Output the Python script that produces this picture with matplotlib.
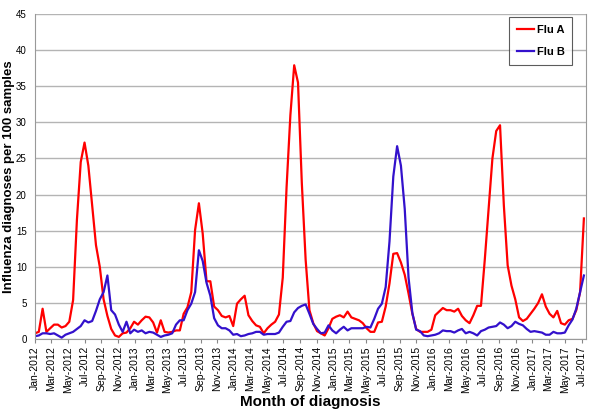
import numpy as np
import pandas as pd
import matplotlib
matplotlib.use('Agg')
import matplotlib.pyplot as plt
import matplotlib.dates as mdates

plt.rcParams['font.family'] = ['Liberation Sans', 'DejaVu Sans']

# fortnightly values, starting 1 Jan 2012
flu_a = [0.8, 1.0, 4.2, 1.0, 1.5, 2.0, 2.0, 1.6, 1.8, 2.4,
         5.4, 16.5, 24.5, 27.2, 24.0, 18.5, 13.0, 10.0, 5.5, 3.2,
         1.4, 0.5, 0.3, 0.8, 0.9, 1.5, 2.4, 2.0, 2.6, 3.1,
         3.0, 2.3, 0.9, 2.6, 1.0, 0.9, 1.0, 1.2, 1.2, 3.5,
         4.4, 6.5, 15.1, 18.8, 14.6, 8.0, 8.0, 4.5, 4.0, 3.2,
         3.0, 3.2, 1.8, 4.9, 5.5, 6.0, 3.3, 2.5, 1.9, 1.7,
         0.8, 1.5, 2.0, 2.4, 3.4, 8.5, 21.0, 31.0, 37.9, 35.5,
         21.6, 11.0, 4.0, 2.2, 1.1, 0.8, 0.5, 1.5, 2.8, 3.1,
         3.3, 3.0, 3.8, 3.0, 2.8, 2.6, 2.2, 1.5, 1.0, 1.0,
         2.3, 2.4, 4.5, 7.7, 11.8, 11.9, 10.6, 8.9, 6.3, 3.5,
         1.4, 1.0, 1.0, 1.0, 1.3, 3.3, 3.8, 4.3, 4.0, 4.0,
         3.8, 4.2, 3.2, 2.6, 2.2, 3.3, 4.6, 4.6, 11.0, 18.0,
         25.0, 28.8, 29.6, 18.5, 10.2, 7.4, 5.5, 3.0, 2.5, 2.8,
         3.5, 4.2, 5.0, 6.2, 4.5, 3.5, 3.0, 3.9, 2.2, 2.0,
         2.6, 2.8, 4.0, 6.5, 16.7]
flu_b = [0.4, 0.5, 0.8, 0.8, 0.7, 0.8, 0.5, 0.2, 0.6, 0.8,
         1.0, 1.4, 1.8, 2.6, 2.3, 2.5, 3.9, 5.5, 6.5, 8.8,
         4.0, 3.4, 2.0, 1.0, 2.4, 0.8, 1.3, 1.0, 1.2, 0.8,
         1.0, 0.9, 0.6, 0.3, 0.5, 0.6, 0.8, 2.0, 2.6, 2.6,
         4.0, 4.9, 6.5, 12.3, 10.8, 7.8, 6.0, 2.9, 1.9, 1.5,
         1.5, 1.2, 0.6, 0.7, 0.4, 0.5, 0.7, 0.8, 1.0, 1.0,
         0.6, 0.7, 0.7, 0.7, 0.9, 1.7, 2.4, 2.5, 3.7, 4.3,
         4.6, 4.8, 3.5, 2.1, 1.4, 0.8, 0.9, 1.9, 1.2, 0.8,
         1.3, 1.7, 1.2, 1.5, 1.5, 1.5, 1.5, 1.7, 1.6, 2.8,
         4.2, 4.9, 7.2, 13.5, 22.5, 26.7, 24.0, 18.0, 8.5, 3.6,
         1.3, 1.1, 0.5, 0.4, 0.5, 0.6, 0.8, 1.2, 1.1, 1.1,
         0.9, 1.2, 1.4, 0.8, 1.0, 0.8, 0.5, 1.1, 1.3, 1.6,
         1.7, 1.8, 2.3, 2.0, 1.5, 1.8, 2.4, 2.1, 1.9, 1.4,
         1.0, 1.1, 1.0, 0.9, 0.6, 0.6, 1.0, 0.8, 0.8, 0.9,
         1.9, 2.7, 4.2, 6.5, 8.8]
dates = pd.date_range('2012-01-01', periods=len(flu_a), freq='14D')

fig = plt.figure(figsize=(5.95, 4.11), dpi=100)
ax = fig.add_axes([0.0588, 0.175, 0.9262, 0.791])

ax.plot(dates, flu_a, color='#ff0000', lw=1.6, label='Flu A')
ax.plot(dates, flu_b, color='#3311cc', lw=1.6, label='Flu B')

ax.set_ylim(0, 45)
ax.set_yticks(range(0, 46, 5))
ax.set_xlim(pd.Timestamp('2012-01-01'), pd.Timestamp('2017-07-17'))
ax.xaxis.set_major_locator(mdates.MonthLocator(bymonth=[1, 3, 5, 7, 9, 11]))
ax.xaxis.set_major_formatter(mdates.DateFormatter('%b-%Y'))
ax.tick_params(axis='x', labelrotation=90, labelsize=7.5, length=3,
               color='#888888', pad=2)
ax.tick_params(axis='y', labelsize=7, length=0, pad=6)

ax.grid(axis='y', color='#b4b4b4', lw=1)
ax.set_axisbelow(True)
for side in ['left', 'bottom', 'right']:
    ax.spines[side].set_color('#999999')
ax.spines['top'].set_visible(False)

ax.set_xlabel('Month of diagnosis', fontsize=11, fontweight='bold', labelpad=2)
ax.set_ylabel('Influenza diagnoses per 100 samples', fontsize=9.5,
              fontweight='bold', va='center')
ax.yaxis.set_label_coords(-0.047, 0.5)

leg = ax.legend(loc='upper right', bbox_to_anchor=(0.975, 0.99),
                prop={'weight': 'bold', 'size': 8}, fancybox=False,
                handlelength=1.6, handletextpad=0.2, borderpad=0.7,
                labelspacing=1.1, borderaxespad=0)
leg.get_frame().set_edgecolor('#333333')
leg.get_frame().set_linewidth(0.8)

fig.savefig('out.png', dpi=100)
